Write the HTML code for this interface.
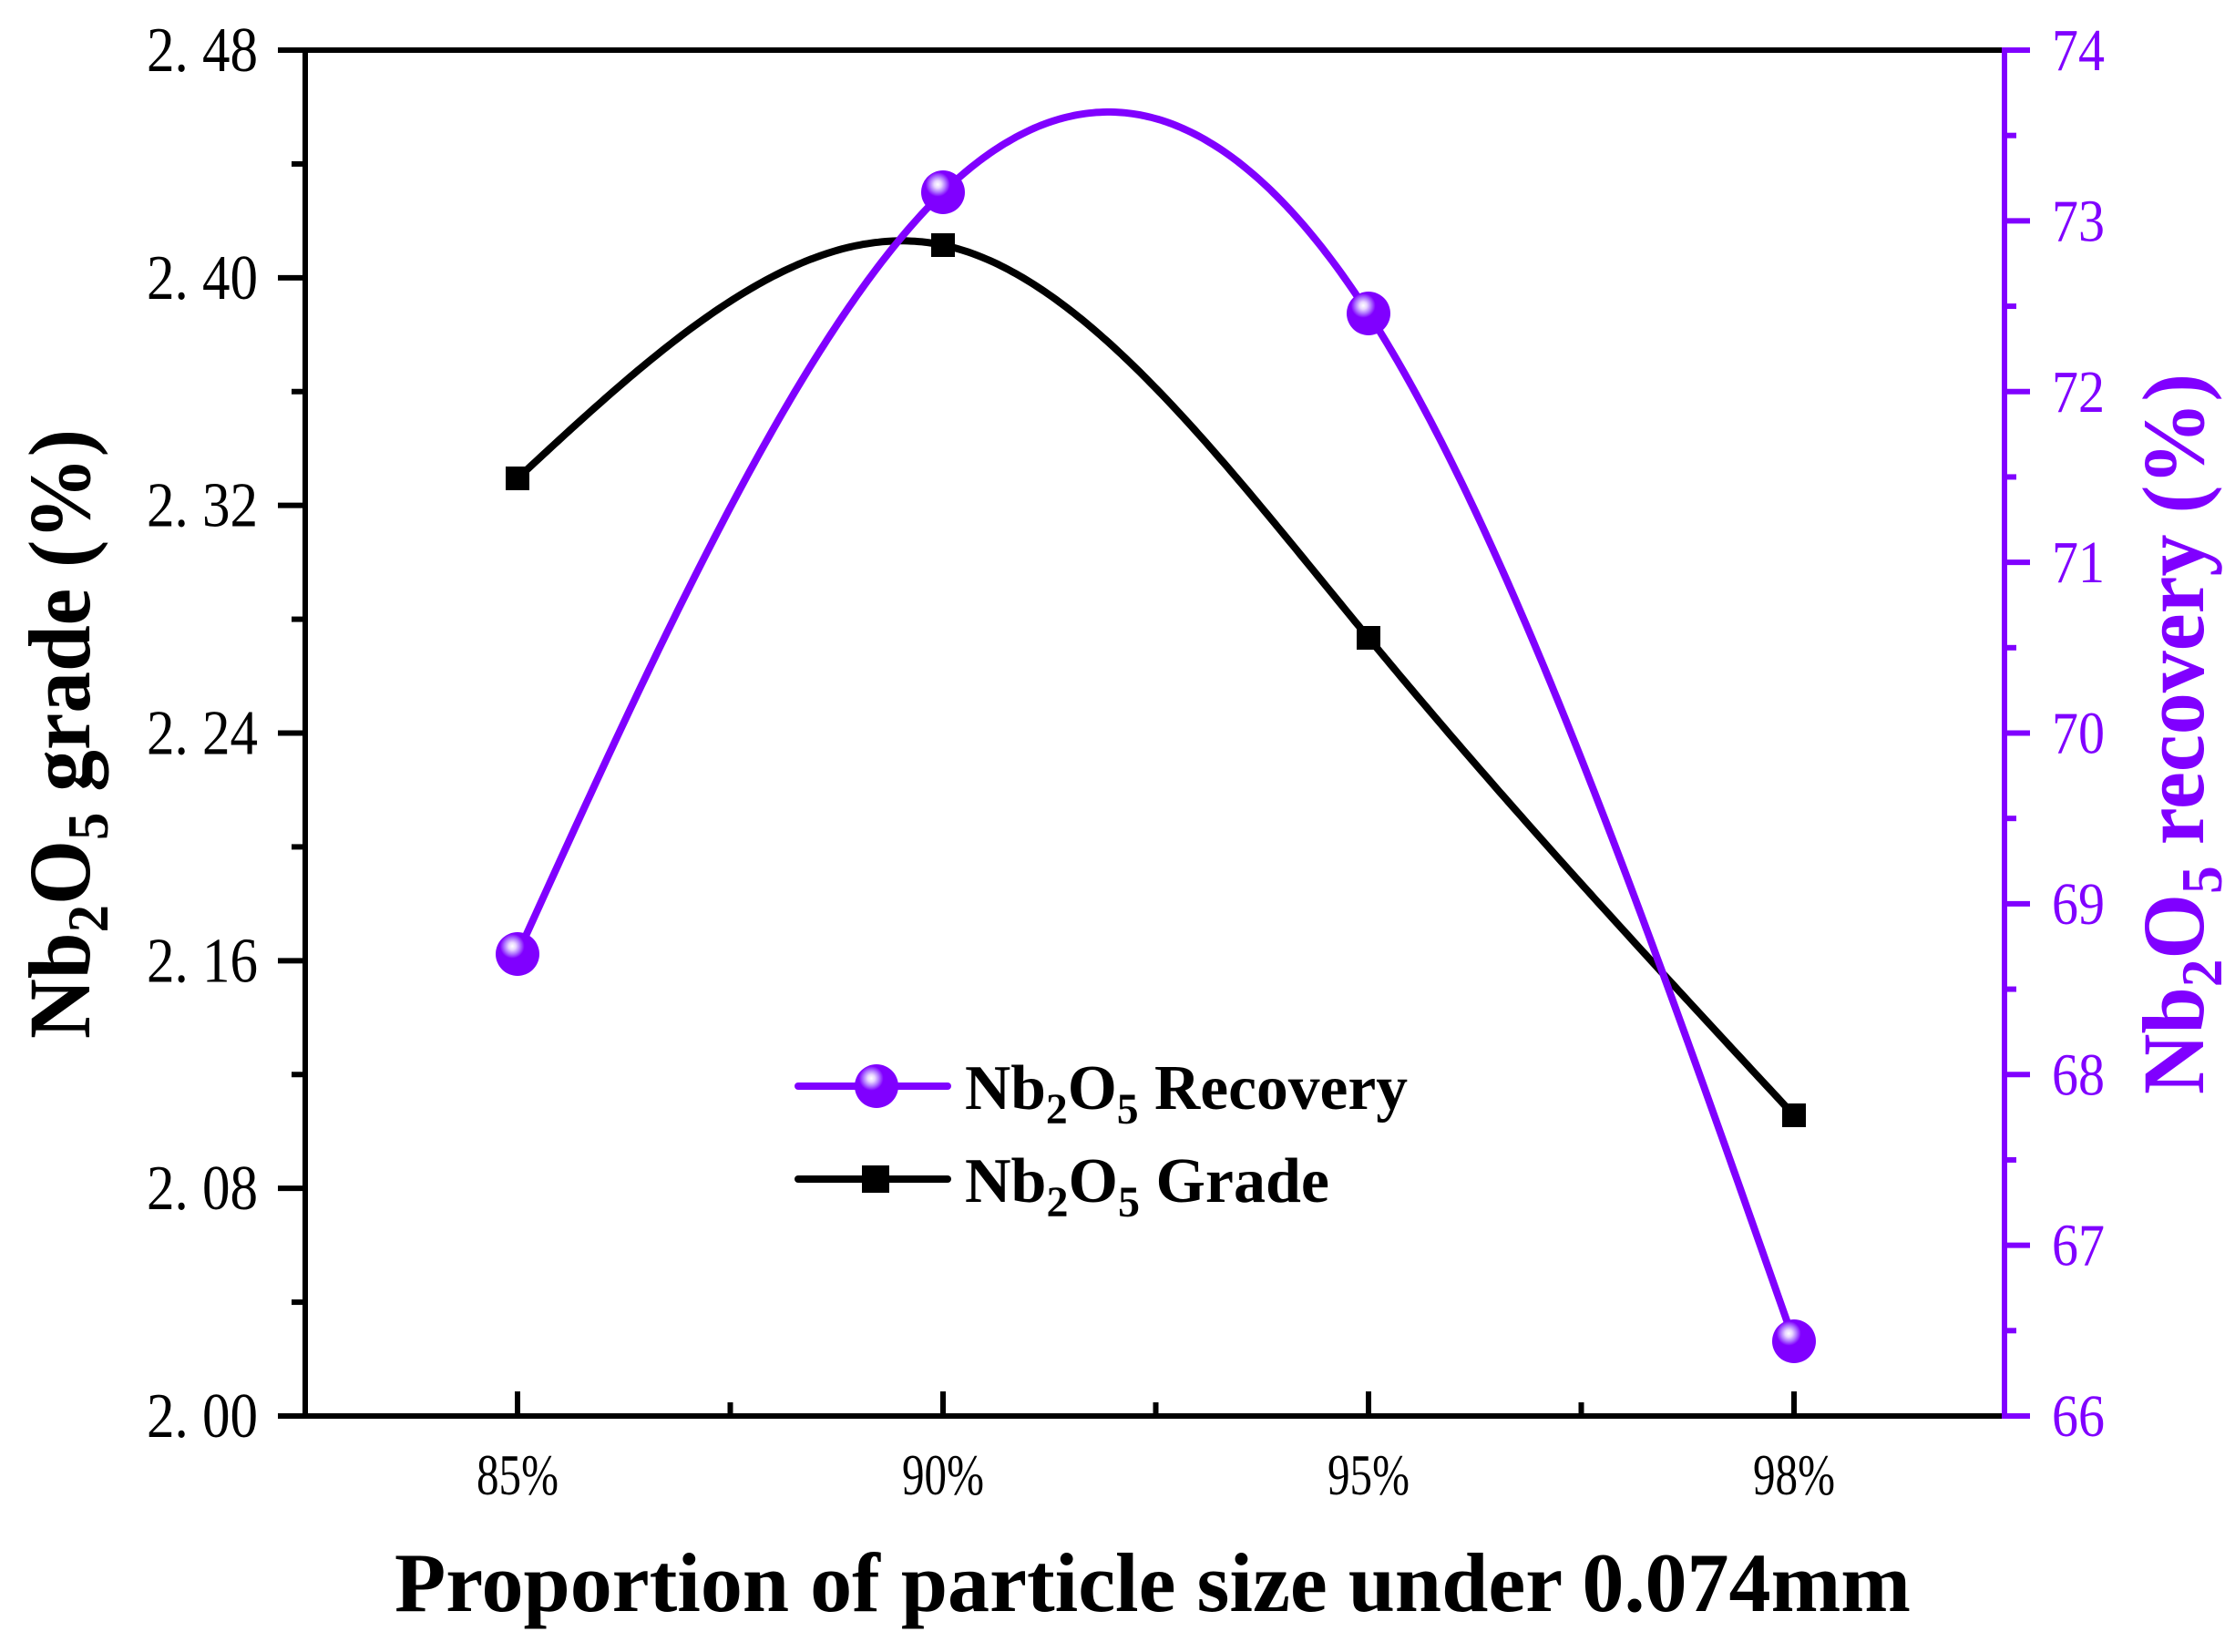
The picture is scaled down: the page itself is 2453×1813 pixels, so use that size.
<!DOCTYPE html>
<html><head><meta charset="utf-8"><style>
html,body{margin:0;padding:0;background:#fff;}
svg{display:block;}
text{font-family:"Liberation Serif",serif;}
</style></head><body>
<svg id="s" width="2453" height="1813" viewBox="0 0 2453 1813" xmlns="http://www.w3.org/2000/svg">
<defs>
<radialGradient id="sph" cx="0.38" cy="0.32" r="0.7">
<stop offset="0" stop-color="#ffffff"/>
<stop offset="0.12" stop-color="#e8d6ff"/>
<stop offset="0.25" stop-color="#b27bff"/>
<stop offset="0.4" stop-color="#8000ff"/>
<stop offset="1" stop-color="#8000ff"/>
</radialGradient>
</defs>
<line x1="335" y1="55" x2="2198" y2="55" stroke="#000" stroke-width="6"/>
<line x1="335" y1="52" x2="335" y2="1557" stroke="#000" stroke-width="6"/>
<line x1="332" y1="1554" x2="2198" y2="1554" stroke="#000" stroke-width="6"/>
<line x1="2200" y1="52" x2="2200" y2="1557" stroke="#8000ff" stroke-width="6"/>
<g id="ticks"></g>
<g id="curves"></g>
<line x1="876" y1="1192" x2="1040" y2="1192" stroke="#8000ff" stroke-width="8" stroke-linecap="round"/>
<circle cx="962" cy="1192" r="24" fill="url(#sph)"/>
<line x1="876" y1="1294" x2="1040" y2="1294" stroke="#000" stroke-width="8" stroke-linecap="round"/>
<rect x="946" y="1279" width="30" height="30" fill="#000"/>
<text x="1059" y="1217" font-size="70" font-weight="bold" textLength="486" lengthAdjust="spacingAndGlyphs">Nb<tspan font-size="48" dy="16">2</tspan><tspan dy="-16">O</tspan><tspan font-size="48" dy="16">5</tspan><tspan dy="-16"> Recovery</tspan></text>
<text x="1059" y="1319" font-size="70" font-weight="bold" textLength="400" lengthAdjust="spacingAndGlyphs">Nb<tspan font-size="48" dy="16">2</tspan><tspan dy="-16">O</tspan><tspan font-size="48" dy="16">5</tspan><tspan dy="-16"> Grade</tspan></text>
<text x="433" y="1768" font-size="92" font-weight="bold" textLength="1664" lengthAdjust="spacingAndGlyphs">Proportion of particle size under 0.074mm</text>
<text transform="translate(98,1140) rotate(-90)" font-size="96" font-weight="bold" textLength="669" lengthAdjust="spacingAndGlyphs">Nb<tspan font-size="64" dy="20">2</tspan><tspan dy="-20">O</tspan><tspan font-size="64" dy="20">5</tspan><tspan dy="-20"> grade (%)</tspan></text>
<text transform="translate(2418,1201) rotate(-90)" font-size="96" font-weight="bold" fill="#8000ff" textLength="791" lengthAdjust="spacingAndGlyphs">Nb<tspan font-size="64" dy="20">2</tspan><tspan dy="-20">O</tspan><tspan font-size="64" dy="20">5</tspan><tspan dy="-20"> recovery (%)</tspan></text>
</svg>
<script>
var NS="http://www.w3.org/2000/svg";
function el(p,t,a,txt){var e=document.createElementNS(NS,t);for(var k in a)e.setAttribute(k,a[k]);if(txt!=null)e.textContent=txt;p.appendChild(e);return e;}
var T=document.getElementById('ticks');
var yTop=55,yBot=1554;
for(var i=0;i<=12;i++){var y=yBot-(yBot-yTop)*i/12;var maj=i%2==0;
 el(T,'line',{x1:maj?305:320,y1:y,x2:335,y2:y,stroke:'#000','stroke-width':6});
 if(maj){var v=(2+0.04*i).toFixed(2).replace('.','. ');
 el(T,'text',{x:283,y:y+23,'font-size':70,'text-anchor':'end',textLength:122,lengthAdjust:'spacingAndGlyphs'},v);}}
for(var i=0;i<=16;i++){var y=yBot-(yBot-yTop)*i/16;var maj=i%2==0;
 el(T,'line',{x1:2200,y1:y,x2:maj?2228:2213,y2:y,stroke:'#8000ff','stroke-width':6});
 if(maj){el(T,'text',{x:2252,y:y+22,'font-size':66,fill:'#8000ff',textLength:58,lengthAdjust:'spacingAndGlyphs'},String(66+i/2));}}
var xs=[568,1035,1502,1969],labs=['85%','90%','95%','98%'];
for(var i=0;i<4;i++){el(T,'line',{x1:xs[i],y1:1554,x2:xs[i],y2:1527,stroke:'#000','stroke-width':6});
 el(T,'text',{x:xs[i],y:1640,'font-size':64,'text-anchor':'middle',textLength:90,lengthAdjust:'spacingAndGlyphs'},labs[i]);
 if(i<3){var m=(xs[i]+xs[i+1])/2;el(T,'line',{x1:m,y1:1554,x2:m,y2:1539,stroke:'#000','stroke-width':6});}}
function spline(x,y){var n=x.length,h=[],a=[],l=[1],mu=[0],z=[0],c=new Array(n).fill(0),b=[],d=[];
 for(var i=0;i<n-1;i++)h[i]=x[i+1]-x[i];
 for(var i=1;i<n-1;i++)a[i]=3/h[i]*(y[i+1]-y[i])-3/h[i-1]*(y[i]-y[i-1]);
 for(var i=1;i<n-1;i++){l[i]=2*(x[i+1]-x[i-1])-h[i-1]*mu[i-1];mu[i]=h[i]/l[i];z[i]=(a[i]-h[i-1]*z[i-1])/l[i];}
 for(var j=n-2;j>=0;j--){c[j]=z[j]-mu[j]*c[j+1];b[j]=(y[j+1]-y[j])/h[j]-h[j]*(c[j+1]+2*c[j])/3;d[j]=(c[j+1]-c[j])/(3*h[j]);}
 var pts=[];for(var j=0;j<n-1;j++){for(var t=0;t<=h[j];t+=4){pts.push((x[j]+t).toFixed(1)+','+(y[j]+b[j]*t+c[j]*t*t+d[j]*t*t*t).toFixed(1));}}
 pts.push(x[n-1]+','+y[n-1]);return 'M'+pts.join(' L');}
var C=document.getElementById('curves');
var gy=[525,269,700,1224],ry=[1047,211,344,1472];
el(C,'path',{d:spline(xs,gy),fill:'none',stroke:'#000','stroke-width':8});
el(C,'path',{d:spline(xs,ry),fill:'none',stroke:'#8000ff','stroke-width':8});
for(var i=0;i<4;i++){el(C,'rect',{x:xs[i]-13,y:gy[i]-13,width:26,height:26,fill:'#000'});}
for(var i=0;i<4;i++){el(C,'circle',{cx:xs[i],cy:ry[i],r:24,fill:'url(#sph)'});}
</script>
</body></html>
